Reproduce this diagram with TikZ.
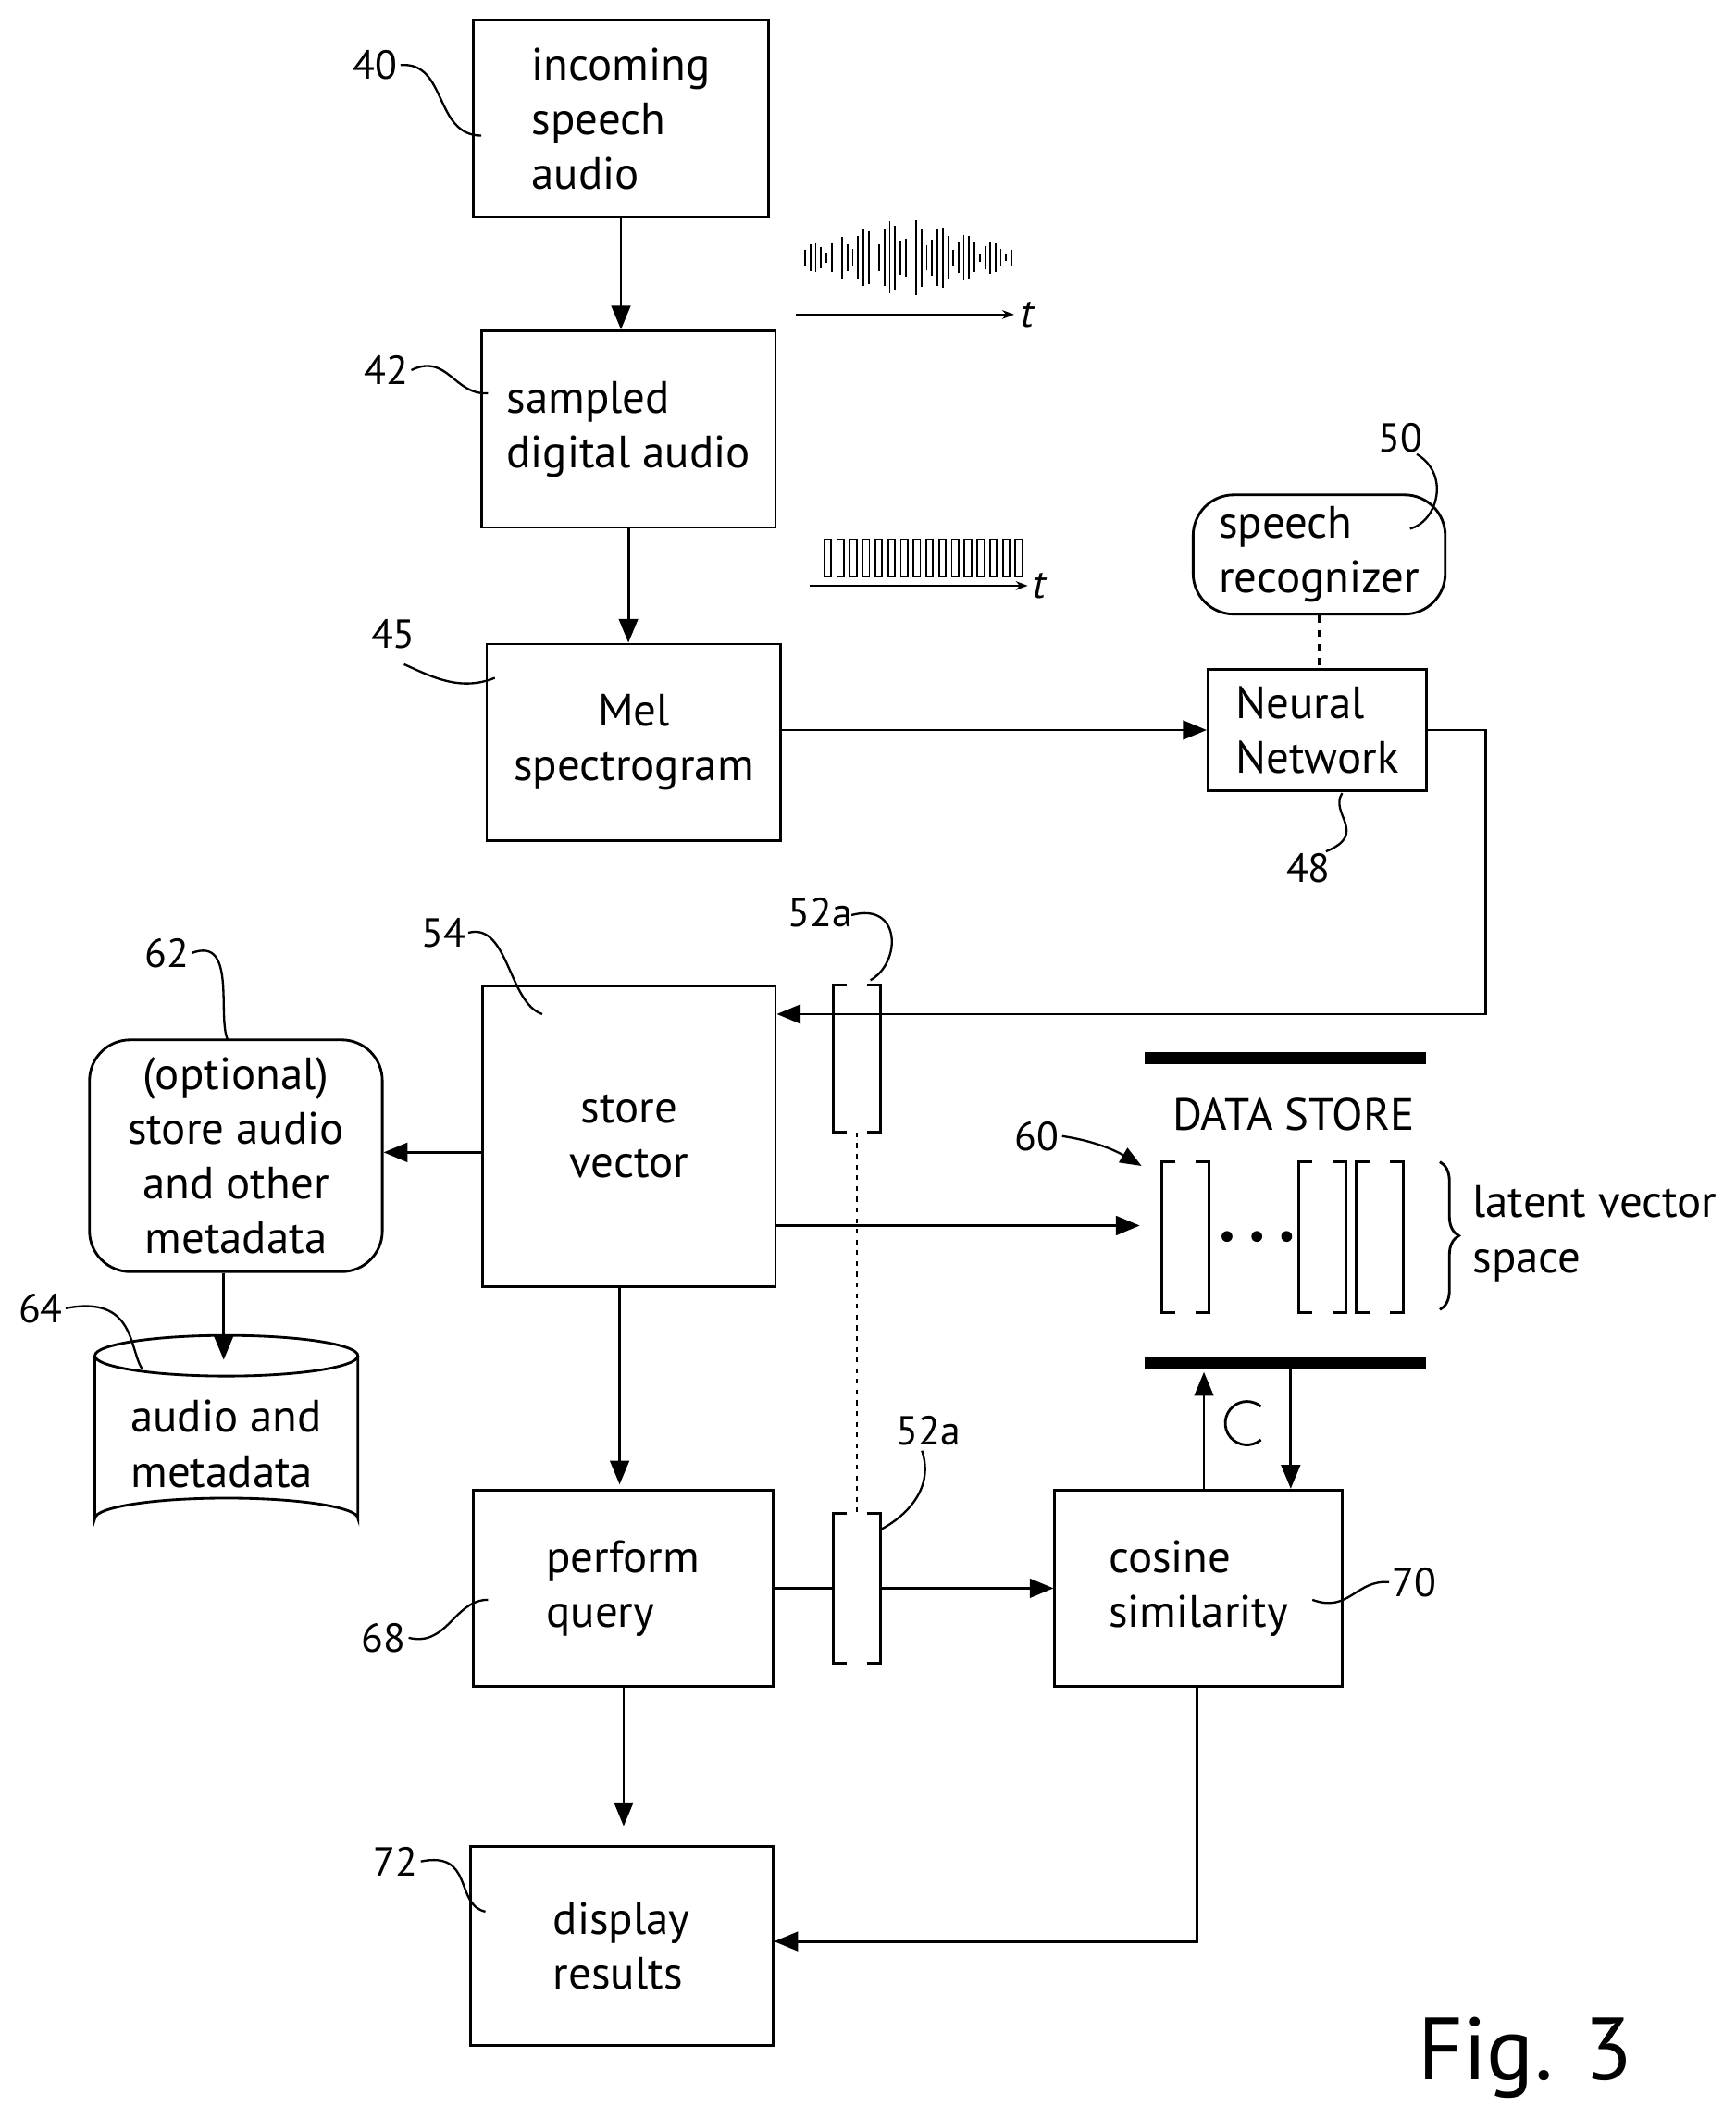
\documentclass[tikz,border=0pt]{standalone}
\usepackage{fontspec}
\setmainfont{PT Sans}
\usetikzlibrary{arrows.meta,decorations.pathreplacing}
\begin{document}
\begin{tikzpicture}[x=0.02cm,y=-0.02cm,
 every node/.style={font=\fontsize{19}{23}\selectfont},
 box/.style={draw,line width=1.1pt,align=left,inner sep=0pt},
 rbox/.style={box,rounded corners=0.6cm},
 ln/.style={line width=1.1pt},
 arr/.style={ln,-{Triangle[length=10pt,width=8pt]}},
 lead/.style={line width=0.9pt},
 lab/.style={font=\fontsize{17}{20}\selectfont,inner sep=1pt}]
\useasboundingbox (0,0) rectangle (1280,1563);
% boxes
\node[box,minimum width=4.36cm,minimum height=2.9cm] (in) at (458,87.5) {incoming\\speech\\audio};
\node[box,minimum width=4.34cm,minimum height=2.9cm] (samp) at (463.5,316.5) {sampled\\digital audio};
\node[box,align=center,minimum width=4.34cm,minimum height=2.9cm] (mel) at (467.5,547.5) {Mel\\spectrogram};
\node[box,minimum width=3.22cm,minimum height=1.78cm] (nn) at (971.5,538.5) {Neural\\Network};
\node[rbox,minimum width=3.72cm,minimum height=1.76cm] (sr) at (973,409) {speech\\recognizer};
\node[box,align=center,minimum width=4.32cm,minimum height=4.44cm] (sv) at (464,838) {store\\vector};
\node[rbox,align=center,minimum width=4.32cm,minimum height=3.42cm] (opt) at (174,852.5) {(optional)\\store audio\\and other\\metadata};
\node[box,minimum width=4.42cm,minimum height=2.9cm] (pq) at (459.5,1171.5) {perform\\query};
\node[box,minimum width=4.24cm,minimum height=2.9cm] (cs) at (884,1171.5) {cosine\\similarity};
\node[box,minimum width=4.46cm,minimum height=2.94cm] (dr) at (458.5,1435.5) {display\\results};
% cylinder
\node[minimum width=3.88cm,minimum height=2.7cm,align=left] (db) at (167,1065) {audio and\\metadata};
\draw[ln] (70,1000) -- (70,1120) arc(180:360:97 and 15) -- (264,1000);
\draw[ln] (167,1000) ellipse (97 and 15);
% brackets 52a
\node[minimum width=0.68cm,minimum height=2.16cm,inner sep=0] (b1) at (632,781) {};
\node[minimum width=0.68cm,minimum height=2.2cm,inner sep=0] (b2) at (632,1171.5) {};
\foreach \b in {b1,b2}{
 \draw[ln] ([xshift=0.2cm]\b.north west) -- (\b.north west) -- (\b.south west) -- ++(0.2cm,0);
 \draw[ln] ([xshift=-0.2cm]\b.north east) -- (\b.north east) -- (\b.south east) -- ++(-0.2cm,0);}
\draw[line width=1.1pt,dash pattern=on 2pt off 2.5pt] (b1.south) -- (b2.north);
% data store
\fill (844,776) rectangle (1052,785);
\fill (844,1001) rectangle (1052,1010);
\node at (954,822) {DATA STORE};
\node[minimum width=4.2cm,minimum height=2.3cm,inner sep=0] (ds) at (946,912) {};
\foreach \a in {857,958,1000}{
 \draw[ln] (\a+10,857) -- (\a,857) -- (\a,968) -- (\a+10,968);
 \draw[ln] (\a+25,857) -- (\a+35,857) -- (\a+35,968) -- (\a+25,968);}
\foreach \a in {905,927,949}{\fill (\a,912) circle (4);}
\draw[ln,decorate,decoration={brace,amplitude=8pt}] (1062,857) -- (1062,966);
\node[align=left,anchor=west] at (1080,910) {latent vector\\space};
% waveform
\foreach \i in {0,...,40}{
 \pgfmathsetmacro\x{590+\i*3.9}
 \pgfmathsetmacro\h{(6+24*abs(sin(\i*37)))*(1-abs(\i-20)/27)}
 \draw[line width=0.7pt] (\x,190-\h) -- (\x,190+\h);}
\draw[line width=0.7pt,-{Stealth[length=5pt]}] (587,232) -- (748,232);
\node[font=\itshape\fontsize{17}{20}\selectfont] at (758,232) {t};
\foreach \i in {0,...,15}{\draw[line width=0.7pt] (608+\i*9.4,398) rectangle ++(5,27);}
\draw[line width=0.7pt,-{Stealth[length=5pt]}] (597,432) -- (758,432);
\node[font=\itshape\fontsize{17}{20}\selectfont] at (767,432) {t};
% connectors
\draw[arr] (in.south) -- (in.south |- samp.north);
\draw[arr] (samp.south) -- (samp.south |- mel.north);
\draw[arr] (mel.east |- nn.west) -- (nn.west);
\draw[ln,dash pattern=on 3pt off 3pt] (sr.south) -- (sr.south |- nn.north);
\coordinate (c0) at (1096,748);
\draw[arr] (nn.east) -| (c0) -- (sv.east |- c0);
\draw[arr] (sv.west |- 0,850) -- (opt.east |- 0,850);
\draw[arr] (opt.south -| 165,0) -- (165,1003);
\draw[arr] (sv.east |- 0,904) -- (ds.west |- 0,904);
\draw[arr] (sv.south -| 457,0) -- (457,1095);
\draw[ln] (pq.east) -- (b2.west);
\draw[arr] (b2.east) -- (cs.west);
\draw[arr] (cs.north -| 888,0) -- (888,1012);
\draw[arr] (952,1010) -- (cs.north -| 952,0);
\draw[line width=1.1pt] (930,1062) arc(50:310:16);
\draw[arr] (pq.south -| 460,0) -- (460,1347);
\coordinate (c1) at (883,1432);
\draw[arr] (cs.south -| c1) -- (c1) -- (dr.east |- c1);
% labels
\node[lab] (l40) at (277,48) {40}; \draw[lead] (l40.east) .. controls (330,45) and (320,100) .. (355,100);
\node[lab] (l42) at (285,273) {42}; \draw[lead] (l42.east) .. controls (330,260) and (335,292) .. (360,290);
\node[lab] (l45) at (290,468) {45}; \draw[lead] (298,490) .. controls (320,500) and (340,510) .. (365,500);
\node[lab] (l50) at (1033,323) {50}; \draw[lead] (1045,335) .. controls (1070,350) and (1060,385) .. (1040,390);
\node[lab] (l48) at (965,640) {48}; \draw[lead] (978,628) .. controls (1010,615) and (980,600) .. (990,585);
\node[lab] (l52) at (605,673) {52a}; \draw[lead] (628,675) .. controls (665,665) and (665,710) .. (642,723);
\node[lab] (l54) at (327,688) {54}; \draw[lead] (l54.east) .. controls (375,680) and (375,740) .. (400,748);
\node[lab] (l62) at (123,703) {62}; \draw[lead] (l62.east) .. controls (175,690) and (160,750) .. (168,767);
\node[lab] (l64) at (30,965) {64}; \draw[lead] (l64.east) .. controls (100,955) and (95,995) .. (105,1010);
\node[lab] (l52b) at (685,1055) {52a}; \draw[lead] (680,1070) .. controls (690,1100) and (665,1120) .. (650,1128);
\node[lab] (l68) at (283,1208) {68}; \draw[lead] (l68.east) .. controls (330,1215) and (335,1180) .. (360,1180);
\node[lab] (l70) at (1043,1167) {70}; \draw[lead] (968,1180) .. controls (995,1190) and (1000,1165) .. (l70.west);
\node[lab] (l72) at (292,1373) {72}; \draw[lead] (l72.east) .. controls (350,1365) and (335,1405) .. (358,1410);
\node[lab] (l60) at (765,838) {60}; \draw[-{Triangle[length=9pt,width=7pt]},line width=0.9pt] (l60.east) .. controls (810,842) and (825,850) .. (842,860);
\node[font=\fontsize{37}{44}\selectfont] at (1125,1518) {Fig. 3};
\end{tikzpicture}
\end{document}
